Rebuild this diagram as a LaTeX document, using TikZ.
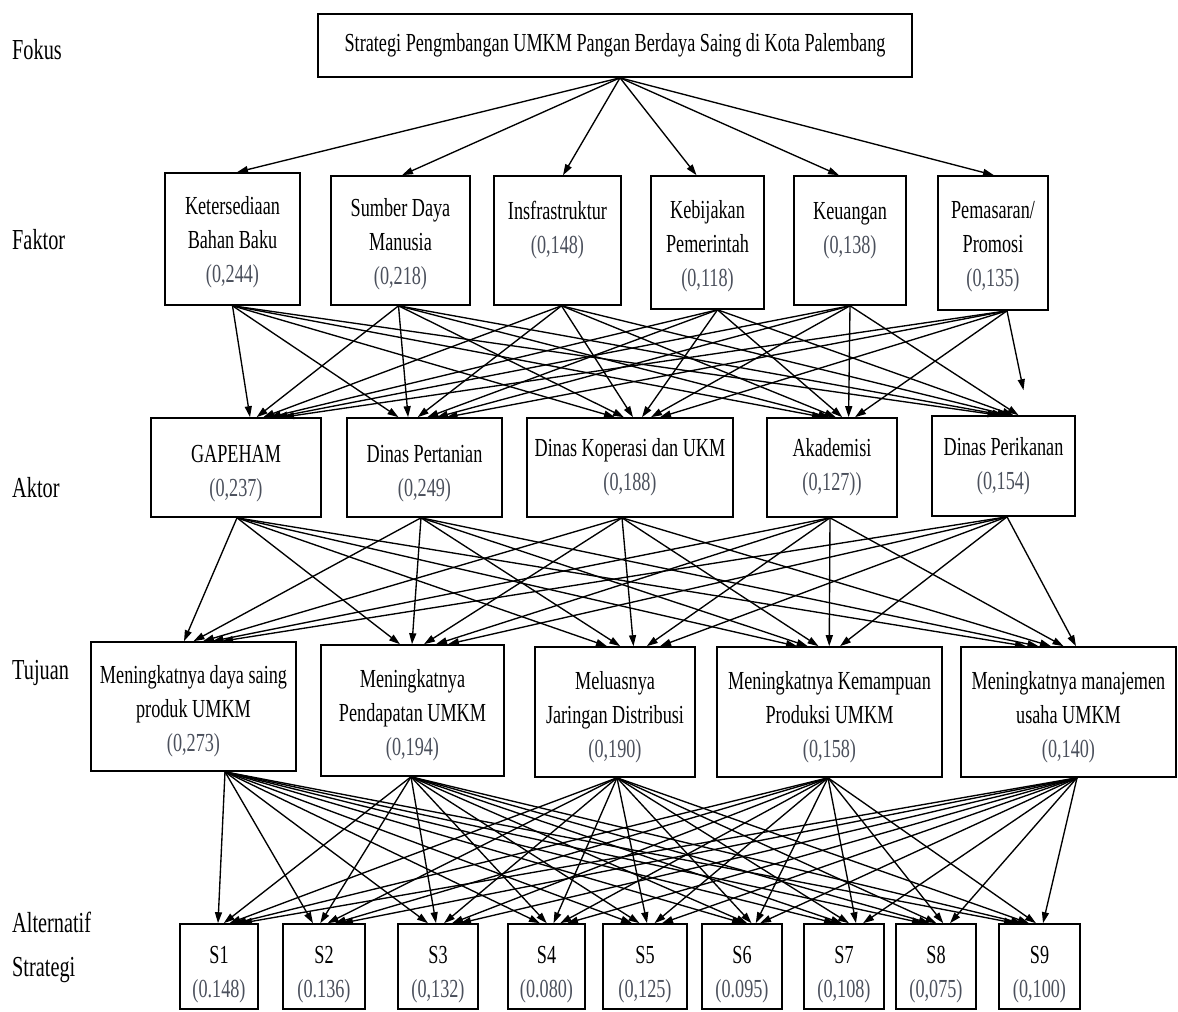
\documentclass[tikz,border=0pt]{standalone}
\usepackage{fontspec}
\setmainfont{Liberation Serif}[FakeStretch=0.7]
\usetikzlibrary{arrows.meta}
\definecolor{numc}{RGB}{75,80,92}
\newcommand\nv[1]{\textcolor{numc}{#1}}
\newcommand\bx[6]{%
  \node[box, minimum width={#4-#2}, minimum height={#5-#3}] (#1) at ({(#2+#4)/2},{(#3+#5)/2}) {#6};}
\begin{document}
\begin{tikzpicture}[x=1pt,y=-1pt,
  box/.style={draw, line width=1.6pt, inner sep=0pt, align=center, font=\fontsize{26}{34}\selectfont},
  lbl/.style={anchor=west, inner sep=0pt, font=\fontsize{29}{34}\selectfont},
  arr/.style={line width=1.35pt, -{Triangle[length=11pt,width=7pt]}}]
\useasboundingbox[fill=white] (0,0) rectangle (1178,1012);

% side labels
\node[lbl] (lf) at (12,50) {Fokus};
\node[lbl] (lk) at (12,240) {Faktor};
\node[lbl] (la) at (12,488) {Aktor};
\node[lbl] (lt) at (12,673) {Tujuan};
\node[lbl] (lal) at (12,922) {Alternatif};
\node[lbl] (ls) at (12,970) {Strategi};

% focus
\bx{top}{318}{14}{912}{77}{Strategi Pengmbangan UMKM Pangan Berdaya Saing di Kota Palembang}

% factors
\bx{k1}{165}{173}{300}{305}{\rule{0pt}{25pt}Ketersediaan\\Bahan Baku\\\nv{(0,244)}}
\bx{k2}{331}{176}{470}{305}{\rule{0pt}{25pt}Sumber Daya\\Manusia\\\nv{(0,218)}}
\bx{k3}{494}{176}{621}{305}{\rule{0pt}{25pt}Insfrastruktur\\\nv{(0,148)}\\\mbox{}}
\bx{k4}{651}{176}{764}{309}{\rule{0pt}{25pt}Kebijakan\\Pemerintah\\\nv{(0,118)}}
\bx{k5}{794}{176}{906}{305}{\rule{0pt}{25pt}Keuangan\\\nv{(0,138)}\\\mbox{}}
\bx{k6}{938}{176}{1048}{310}{\rule{0pt}{25pt}Pemasaran/\\Promosi\\\nv{(0,135)}}

% actors
\bx{a1}{151}{418}{321}{517}{\rule{0pt}{30pt}GAPEHAM\\\nv{(0,237)}}
\bx{a2}{347}{418}{502}{517}{\rule{0pt}{30pt}Dinas Pertanian\\\nv{(0,249)}}
\bx{a3}{527}{418}{733}{517}{Dinas Koperasi dan UKM\\\nv{(0,188)}}
\bx{a4}{767}{418}{897}{517}{Akademisi\\\nv{(0,127))}}
\bx{a5}{932}{416}{1075}{516}{Dinas Perikanan\\\nv{(0,154)}}

% goals
\bx{t1}{91}{642}{296}{771}{\rule{0pt}{28pt}Meningkatnya daya saing\\produk UMKM\\\nv{(0,273)}}
\bx{t2}{321}{645}{504}{776}{\rule{0pt}{28pt}Meningkatnya\\Pendapatan UMKM\\\nv{(0,194)}}
\bx{t3}{535}{647}{695}{777}{\rule{0pt}{28pt}Meluasnya\\Jaringan Distribusi\\\nv{(0,190)}}
\bx{t4}{717}{647}{942}{777}{\rule{0pt}{28pt}Meningkatnya Kemampuan\\Produksi UMKM\\\nv{(0,158)}}
\bx{t5}{961}{647}{1176}{777}{\rule{0pt}{28pt}Meningkatnya manajemen\\usaha UMKM\\\nv{(0,140)}}

% strategies
\bx{s1}{180}{924}{258}{1009}{\rule{0pt}{34pt}S1\\\nv{(0.148)}}
\bx{s2}{283}{924}{365}{1009}{\rule{0pt}{34pt}S2\\\nv{(0.136)}}
\bx{s3}{398}{924}{478}{1009}{\rule{0pt}{34pt}S3\\\nv{(0,132)}}
\bx{s4}{508}{924}{585}{1009}{\rule{0pt}{34pt}S4\\\nv{(0.080)}}
\bx{s5}{603}{924}{687}{1009}{\rule{0pt}{34pt}S5\\\nv{(0,125)}}
\bx{s6}{702}{924}{782}{1009}{\rule{0pt}{34pt}S6\\\nv{(0.095)}}
\bx{s7}{804}{924}{884}{1009}{\rule{0pt}{34pt}S7\\\nv{(0,108)}}
\bx{s8}{896}{924}{976}{1009}{\rule{0pt}{34pt}S8\\\nv{(0,075)}}
\bx{s9}{999}{924}{1080}{1009}{\rule{0pt}{34pt}S9\\\nv{(0,100)}}

% focus -> factors
\foreach \tg/\ex in {k1/4.5,k2/1.5,k3/5.5,k4/-11,k5/-11,k6/1}{
  \draw[arr] ([xshift=5pt]top.south) -- ([xshift=\ex pt]\tg.north);
}

% factors -> actors
\foreach \src/\dx [count=\i from 0] in {k1/0,k2/-2,k3/4,k4/10,k5/0,k6/14}{
  \foreach \tg/\L/\R [count=\j from 0] in {a1/14/47,a2/-26/22,a3/-15/30,a4/-9/23,a5/-5/20}{
    \pgfmathsetmacro\ex{\L+(\R-\L)*\i/5}
    \pgfmathsetmacro\ey{(\i==5)*(\j==4)*25}
    \draw[arr] ([xshift=\dx pt]\src.south) -- ([xshift=\ex pt,yshift=\ey pt]\tg.north);
  }
}

% actors -> goals
\foreach \src/\dx [count=\i from 0] in {a1/1,a2/-3.5,a3/-8,a4/-2,a5/3.5}{
  \foreach \tg/\L/\R in {t1/-9.5/28.5,t2/-12.5/35.5,t3/-8/45,t4/-32.5/10.5,t5/-42.5/7.5}{
    \pgfmathsetmacro\ex{\L+(\R-\L)*\i/4}
    \draw[arr] ([xshift=\dx pt]\src.south) -- ([xshift=\ex pt]\tg.north);
  }
}

% goals -> strategies
\foreach \src/\dx [count=\i from 0] in {t1/31.5,t2/-1.5,t3/2,t4/-1.5,t5/8.5}{
  \foreach \tg/\L/\R in {s1/-1/22,s2/-11/18,s3/-10/22,s4/-6.5/20.5,s5/-13/17,s6/1/18,s7/-9/19,s8/-13/14,s9/-24.5/3.5}{
    \pgfmathsetmacro\ex{\L+(\R-\L)*\i/4}
    \draw[arr] ([xshift=\dx pt]\src.south) -- ([xshift=\ex pt]\tg.north);
  }
}
\end{tikzpicture}
\end{document}
